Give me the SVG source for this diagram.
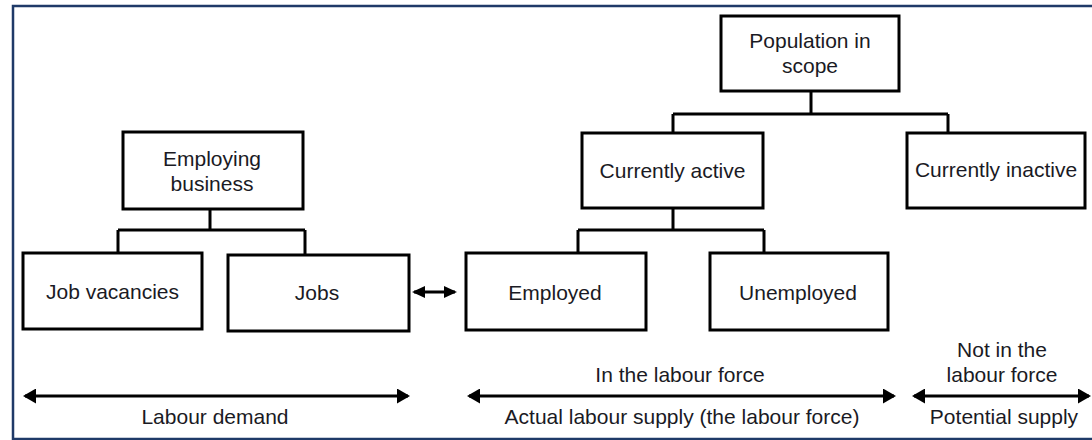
<svg xmlns="http://www.w3.org/2000/svg" width="1092" height="440" viewBox="0 0 1092 440">
<defs>
<style>
.box{fill:#fff;stroke:#000;stroke-width:3}
.con{fill:none;stroke:#000;stroke-width:3}
.arr{fill:none;stroke:#000;stroke-width:3}
text{font-family:"Liberation Sans",Arial,sans-serif;font-size:21px;fill:#1a1a24;text-anchor:middle}
</style>
<marker id="ah" markerUnits="userSpaceOnUse" markerWidth="13" markerHeight="15" refX="11" refY="7.5" orient="auto-start-reverse" viewBox="0 0 13 15">
<path d="M0,0 L13,7.5 L0,15 Z" fill="#000"/>
</marker>
<marker id="ahs" markerUnits="userSpaceOnUse" markerWidth="13" markerHeight="12" refX="11" refY="6" orient="auto-start-reverse" viewBox="0 0 13 12">
<path d="M0,0 L13,6 L0,12 Z" fill="#000"/>
</marker>
</defs>
<rect x="0" y="0" width="1092" height="440" fill="#fff"/>
<rect x="13" y="6" width="1090" height="433" fill="none" stroke="#1f3a68" stroke-width="2.5"/>
<g id="connectors">
<path class="con" d="M811,91 V114 M673,114 H948 M673,114 V133 M948,114 V133"/>
<path class="con" d="M673,208 V230 M578,230 H764 M578,230 V253 M764,230 V253"/>
<path class="con" d="M210,209 V230 M118,230 H305 M118,230 V253 M305,230 V255"/>
<line class="arr" x1="414" y1="292" x2="455" y2="292" marker-start="url(#ahs)" marker-end="url(#ahs)"/>
<line class="arr" x1="25" y1="396" x2="408" y2="396" marker-start="url(#ah)" marker-end="url(#ah)"/>
<line class="arr" x1="469" y1="396" x2="894" y2="396" marker-start="url(#ah)" marker-end="url(#ah)"/>
<line class="arr" x1="914" y1="396" x2="1089" y2="396" marker-start="url(#ah)" marker-end="url(#ah)"/>
</g>
<g id="population">
<rect class="box" x="721" y="16" width="178" height="75"/>
<text x="810" y="48">Population in</text>
<text x="810" y="73">scope</text>
</g>
<g id="currently-active">
<rect class="box" x="582" y="133" width="181" height="75"/>
<text x="672.5" y="178">Currently active</text>
</g>
<g id="currently-inactive">
<rect class="box" x="907" y="133" width="178" height="75"/>
<text x="996" y="177">Currently inactive</text>
</g>
<g id="employing-business">
<rect class="box" x="123" y="132" width="180" height="77"/>
<text x="212" y="166">Employing</text>
<text x="212" y="191">business</text>
</g>
<g id="job-vacancies">
<rect class="box" x="23" y="253" width="179" height="76"/>
<text x="112.5" y="299">Job vacancies</text>
</g>
<g id="jobs">
<rect class="box" x="228" y="255" width="181" height="76"/>
<text x="317" y="300">Jobs</text>
</g>
<g id="employed">
<rect class="box" x="466" y="253" width="180" height="77"/>
<text x="555" y="300">Employed</text>
</g>
<g id="unemployed">
<rect class="box" x="710" y="253" width="178" height="77"/>
<text x="798" y="300">Unemployed</text>
</g>
<g id="labels">
<text x="215" y="424">Labour demand</text>
<text x="680" y="382">In the labour force</text>
<text x="682" y="424">Actual labour supply (the labour force)</text>
<text x="1002" y="357">Not in the</text>
<text x="1002" y="382">labour force</text>
<text x="1004" y="424">Potential supply</text>
</g>
</svg>
